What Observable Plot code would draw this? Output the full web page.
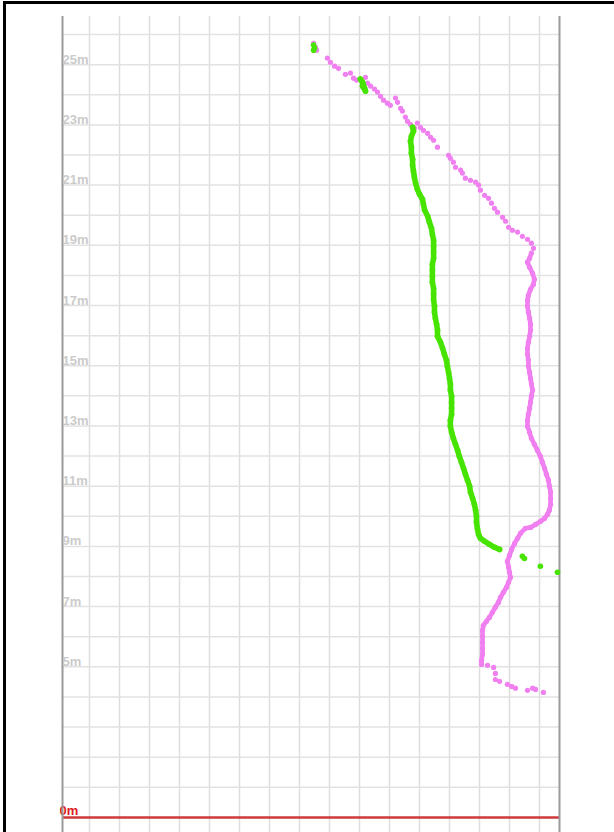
<!DOCTYPE html>
<html><head><meta charset="utf-8">
<script src="https://cdn.jsdelivr.net/npm/d3@7"></script>
<script src="https://cdn.jsdelivr.net/npm/@observablehq/plot@0.6"></script>
<style>
html,body{margin:0;padding:0;overflow:hidden;background:#fff;width:614px;height:832px}
#wrap{position:relative;width:614px;height:832px;overflow:hidden}
#border{position:absolute;left:3px;top:1px;width:800px;height:900px;border:3px solid #000;box-sizing:border-box;pointer-events:none}
#chart{position:absolute;left:0;top:0}
</style></head><body>
<div id="wrap"><div id="chart"></div><div id="border"></div></div>
<script>
// ---- data (metres) ----
const xDomain = [-0.9, 15.667];
const yDomain = [-1.1, 26.6];
const xGrid = [0,1,2,3,4,5,6,7,8,9,10,11,12,13,14,15];
const yGrid = [1,2,3,4,5,6,7,8,9,10,11,12,13,14,15,16,17,18,19,20,21,22,23,24,25,26];
const yLabels = [25,23,21,19,17,15,13,11,9,7,5];
const zeroLabel = [0];

// green trace
const greenX = [7.47,7.5,7.47, 9.03,9.1,9.13,9.17,9.2,9.1,
 10.77,10.8,10.73,10.7,10.73,10.73,10.77,10.77,10.8,10.83,10.87,10.93,11.0,11.1,11.13,11.17,11.27,11.33,11.4,11.43,11.47,11.47,11.47,11.47,11.43,11.43,11.43,11.43,11.47,11.47,11.47,11.5,11.5,11.53,11.57,11.6,11.6,11.7,11.77,11.83,11.9,11.93,11.97,12.0,12.03,12.03,12.07,12.07,12.07,12.07,12.03,12.03,12.07,12.13,12.2,12.27,12.33,12.4,12.47,12.53,12.6,12.67,12.7,12.77,12.83,12.87,12.9,12.9,12.93,12.97,13.03,13.17,13.33,13.5,13.67,
 14.43,14.5,15.03,15.6];
const greenY = [25.65,25.55,25.48, 24.52,24.42,24.32,24.22,24.12,24.29,
 22.92,22.79,22.62,22.46,22.26,22.06,21.86,21.66,21.46,21.26,21.06,20.86,20.70,20.53,20.37,20.17,19.97,19.77,19.57,19.37,19.17,18.97,18.77,18.57,18.37,18.17,17.97,17.77,17.57,17.38,17.18,16.98,16.78,16.58,16.38,16.18,15.98,15.78,15.58,15.38,15.18,14.98,14.78,14.58,14.39,14.19,13.99,13.79,13.59,13.39,13.19,12.99,12.79,12.59,12.39,12.19,11.99,11.79,11.59,11.40,11.20,11.0,10.80,10.60,10.40,10.20,10.0,9.80,9.60,9.40,9.27,9.17,9.07,8.97,8.90,
 8.67,8.60,8.34,8.14];
const greenRun = [0,0,0, 2,2,2,2,2,2,
 1,1,1,1,1,1,1,1,1,1,1,1,1,1,1,1,1,1,1,1,1,1,1,1,1,1,1,1,1,1,1,1,1,1,1,1,1,1,1,1,1,1,1,1,1,1,1,1,1,1,1,1,1,1,1,1,1,1,1,1,1,1,1,1,1,1,1,1,1,1,1,1,1,1,1,
 0,0,0,0];

// violet trace
const violetX = [7.47,7.53,7.57,7.93,8.03,8.17,8.3,8.53,8.7,8.8,8.9,9.2,9.27,9.37,9.5,9.6,9.7,9.8,9.93,10.03,10.2,10.27,10.37,10.43,10.53,10.6,10.7,10.83,10.93,11.03,11.13,11.27,11.37,11.47,11.6,11.97,12.03,12.13,12.2,12.37,12.43,12.53,12.7,12.87,12.97,13.03,13.17,13.3,13.4,13.5,13.6,13.77,13.87,13.97,14.1,14.27,14.43,14.6,14.73,14.8,
 14.73,14.67,14.6,14.67,14.77,14.83,14.8,14.7,14.63,14.6,14.6,14.63,14.67,14.7,14.7,14.67,14.63,14.6,14.6,14.63,14.63,14.67,14.7,14.73,14.77,14.73,14.7,14.67,14.63,14.6,14.6,14.67,14.73,14.83,14.93,15.03,15.1,15.17,15.23,15.3,15.33,15.37,15.37,15.37,15.33,15.27,15.17,15.03,14.87,14.7,14.53,
 14.37,14.27,14.17,14.07,14.0,13.93,13.97,14.0,14.03,13.97,13.9,13.8,13.7,13.63,13.53,13.43,13.33,13.23,13.13,13.1,13.1,13.1,13.1,13.1,13.07,13.07,
 13.27,13.47,13.53,13.53,13.67,13.93,14.07,14.2,14.6,14.77,14.87,15.13];
const violetY = [25.71,25.58,25.48,25.22,25.08,24.95,24.88,24.68,24.72,24.55,24.49,24.58,24.39,24.29,24.19,24.09,23.95,23.82,23.72,23.65,23.89,23.75,23.55,23.46,23.26,23.12,23.02,22.89,23.06,22.92,22.82,22.72,22.59,22.49,22.26,21.99,21.89,21.76,21.59,21.50,21.40,21.23,21.16,21.10,21.0,20.83,20.66,20.56,20.40,20.23,20.10,19.93,19.80,19.60,19.50,19.44,19.30,19.20,19.07,18.90,
 18.74,18.57,18.44,18.27,18.07,17.87,17.71,17.54,17.34,17.18,16.98,16.78,16.58,16.38,16.18,15.98,15.78,15.58,15.38,15.18,14.98,14.78,14.58,14.39,14.19,13.99,13.79,13.59,13.39,13.19,12.99,12.79,12.59,12.39,12.19,11.99,11.79,11.59,11.40,11.20,11.0,10.80,10.60,10.40,10.20,10.07,9.93,9.83,9.73,9.63,9.60,
 9.44,9.27,9.10,8.90,8.70,8.50,8.31,8.14,7.97,7.81,7.64,7.48,7.31,7.14,6.98,6.81,6.64,6.51,6.38,6.21,6.01,5.81,5.61,5.42,5.22,5.08,
 5.05,4.98,4.78,4.58,4.52,4.42,4.35,4.29,4.22,4.29,4.25,4.15];
const violetRun = violetX.map((_, i) => (i >= 60 && i < 60 + 51 + 26) ? 1 : 0);

const green = greenX.map((x, i) => ({x, y: greenY[i], run: greenRun[i]}));
const violet = violetX.map((x, i) => ({x, y: violetY[i], run: violetRun[i]}));

const GREEN = "#46e400", VIOLET = "#f07ff0";

const chart = Plot.plot({
  width: 614, height: 850,
  marginLeft: 62, marginRight: 55, marginTop: 16, marginBottom: 0,
  x: {domain: xDomain, axis: null},
  y: {domain: yDomain, axis: null},
  style: {background: "transparent", fontFamily: "Liberation Sans, Arial, sans-serif"},
  marks: [
    Plot.ruleX(xGrid, {stroke: "#dedede", strokeWidth: 1.5}),
    Plot.ruleY(yGrid, {stroke: "#e2e2e2", strokeWidth: 1.5}),
    Plot.ruleY(zeroLabel, {stroke: "#cc3a3a", strokeWidth: 2.5}),
    Plot.text(zeroLabel, {y: d => d, frameAnchor: "left", text: d => d + "m", textAnchor: "start", lineAnchor: "bottom", dx: -3, dy: -2, fill: "#dd1a1a", fontSize: 13, fontWeight: "bold"}),
    Plot.ruleX([xDomain[0], xDomain[1]], {stroke: "#9a9a9a", strokeWidth: 2}),
    Plot.text(yLabels, {y: d => d, frameAnchor: "left", text: d => d + "m", textAnchor: "start", lineAnchor: "bottom", dy: -1, fill: "#cbcbcb", fontSize: 13, fontWeight: "bold"}),
    Plot.line(violet.filter(d => d.run > 0), {x: "x", y: "y", z: "run", stroke: VIOLET, strokeWidth: 4.6, strokeLinecap: "round", strokeLinejoin: "round"}),
    Plot.dot(violet, {x: "x", y: "y", r: 2.6, fill: VIOLET}),
    Plot.line(green.filter(d => d.run > 0), {x: "x", y: "y", z: "run", stroke: GREEN, strokeWidth: 5.5, strokeLinecap: "round", strokeLinejoin: "round"}),
    Plot.dot(green, {x: "x", y: "y", r: 2.8, fill: GREEN})
  ]
});
document.getElementById("chart").appendChild(chart);
</script>
</body></html>
